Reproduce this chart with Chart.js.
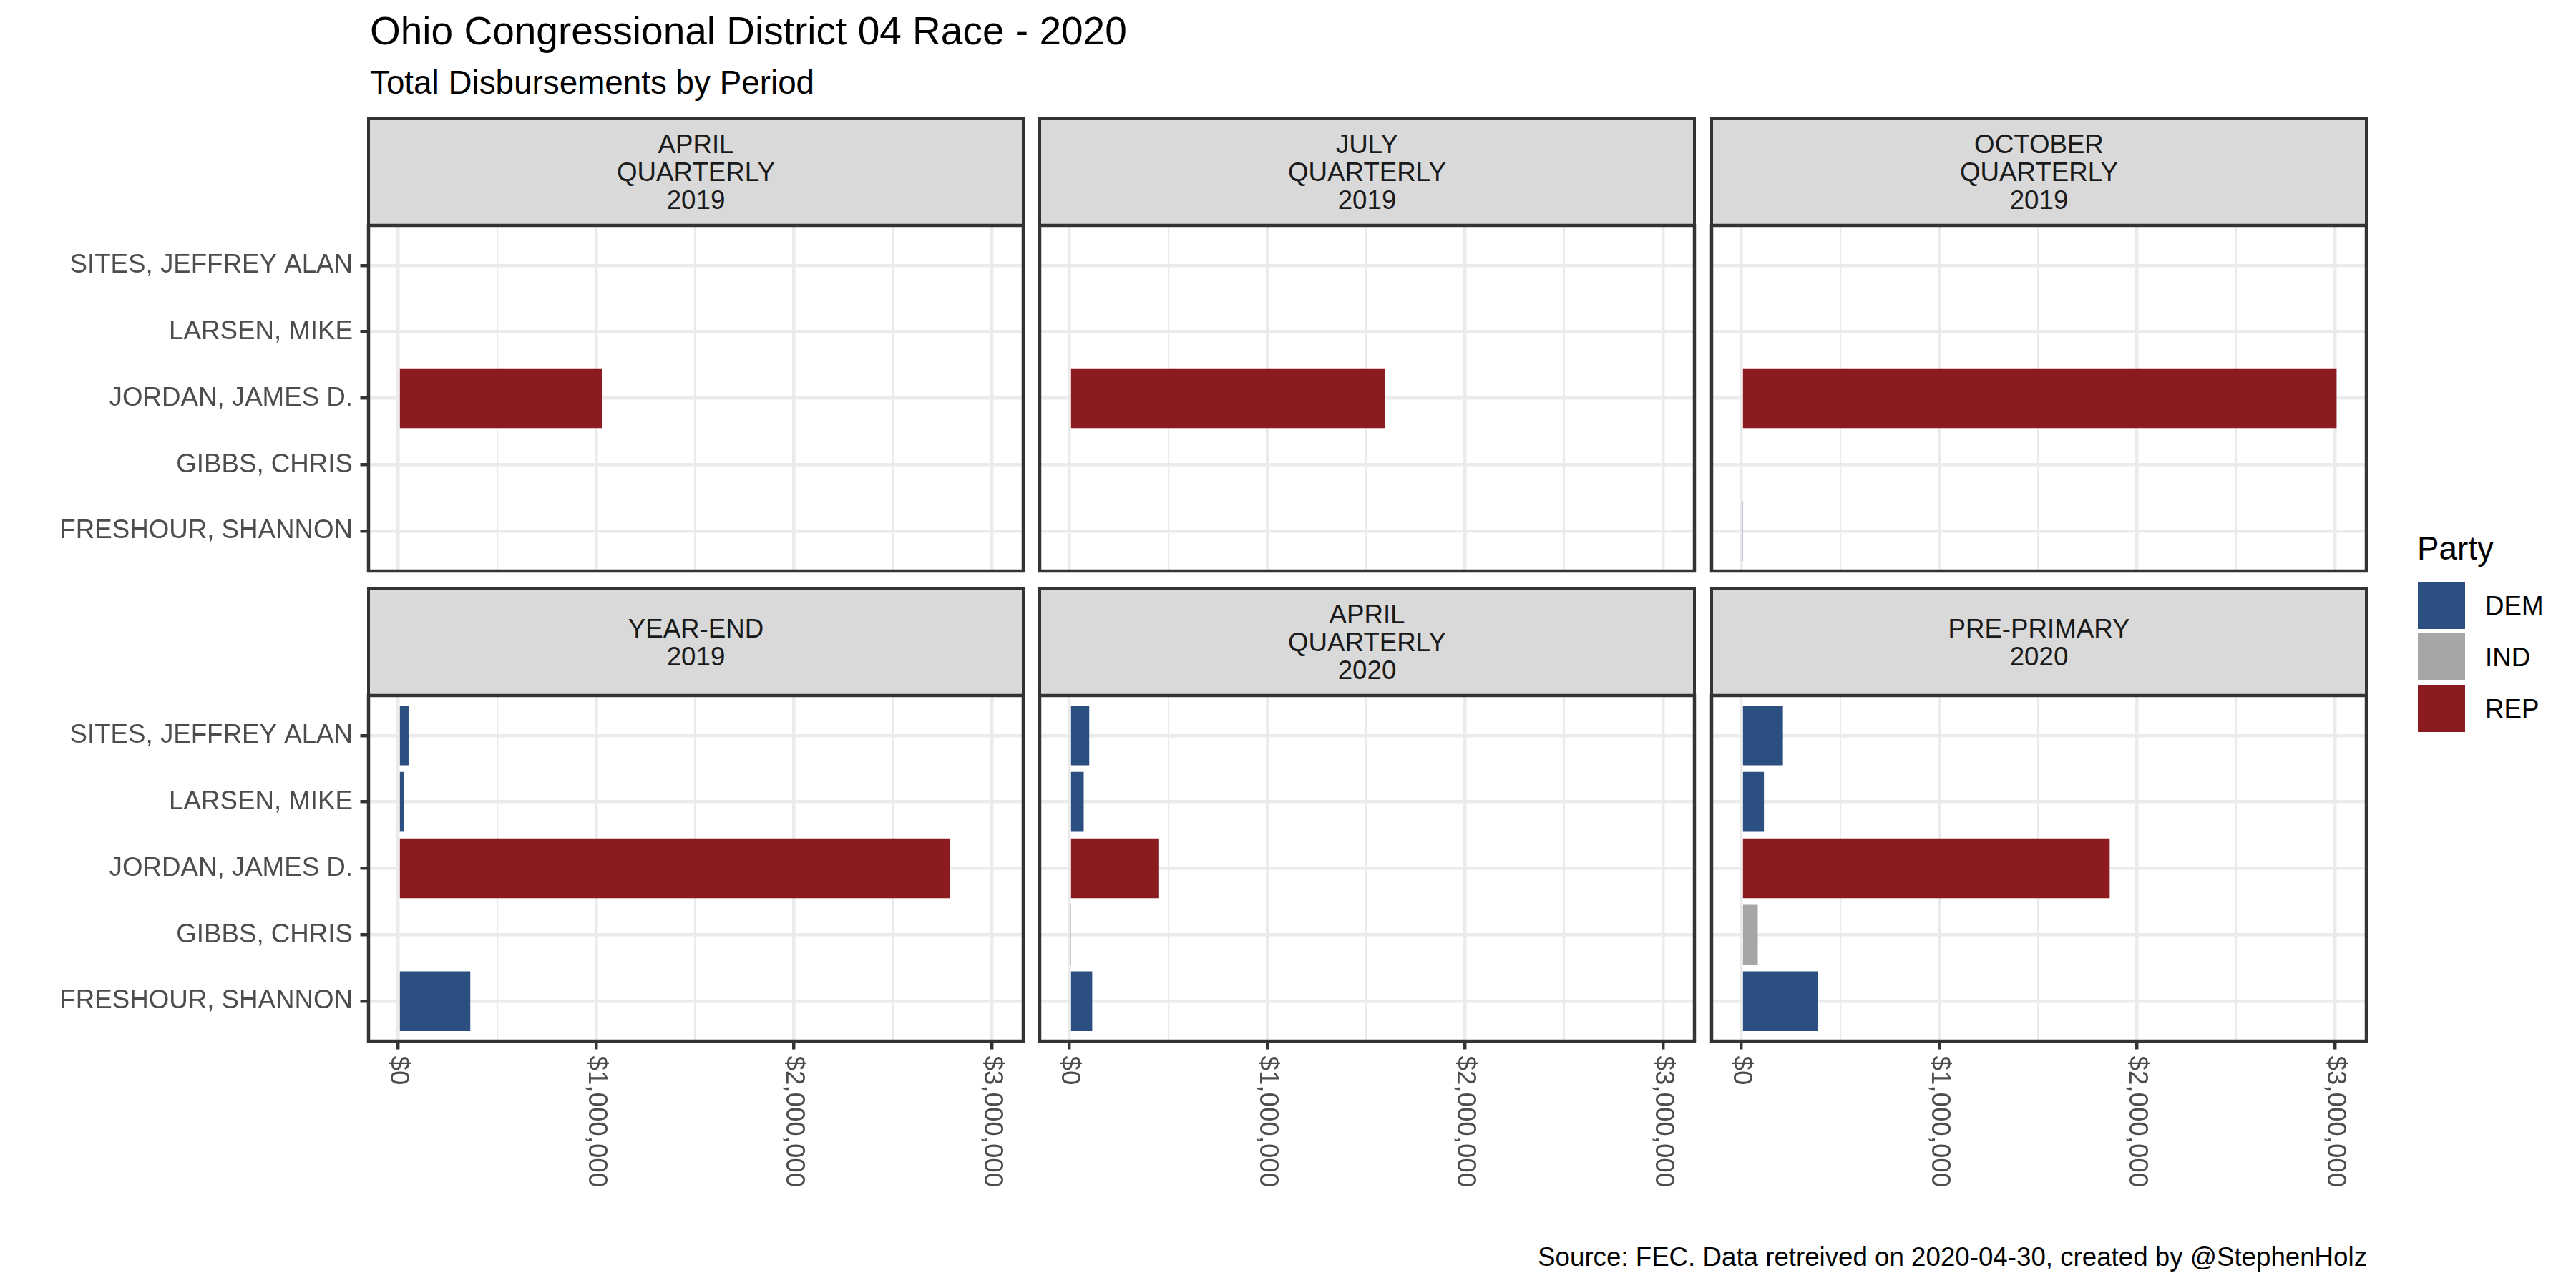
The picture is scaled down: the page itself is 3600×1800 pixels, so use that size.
<!DOCTYPE html>
<html>
<head>
<meta charset="utf-8">
<title>Ohio Congressional District 04 Race - 2020</title>
<script src="https://cdn.jsdelivr.net/npm/chart.js@4.4.1/dist/chart.umd.min.js"></script>
<style>
  body { margin: 0; background: #fff; }
  #page { position: relative; width: 3600px; height: 1800px; overflow: hidden; background: #fff;
          font-family: "Liberation Sans", Arial, sans-serif; }
  .txt { position: absolute; white-space: nowrap; line-height: 1; }
  .strip { position: absolute; box-sizing: border-box; background: #D9D9D9; border: 4.45px solid #333333;
           display: flex; align-items: center; justify-content: center; text-align: center;
           font-size: 36.7px; line-height: 39px; color: #1A1A1A; }
  .panel { position: absolute; }
  .key { position: absolute; width: 66px; height: 66px; }
</style>
</head>
<body>
<div id="page"></div>
<script>
// candidates, bottom to top as ggplot puts them
const candidates = ['FRESHOUR, SHANNON', 'GIBBS, CHRIS', 'JORDAN, JAMES D.', 'LARSEN, MIKE', 'SITES, JEFFREY ALAN'];
const candidateParty = ['DEM', 'IND', 'REP', 'DEM', 'DEM'];

const periods = [
  ['APRIL', 'QUARTERLY', '2019'],
  ['JULY', 'QUARTERLY', '2019'],
  ['OCTOBER', 'QUARTERLY', '2019'],
  ['YEAR-END', '2019'],
  ['APRIL', 'QUARTERLY', '2020'],
  ['PRE-PRIMARY', '2020']
];

// total disbursements per period, same order as candidates (null = no filing)
const aprilQ2019    = [null,   null,  1030000, null,   null];
const julyQ2019     = [null,   null,  1594000, null,   null];
const octoberQ2019  = [7000,   null,  3009000, null,   null];
const yearEnd2019   = [364000, null,  2787000, 28000,  52000];
const aprilQ2020    = [115000, 6000,  453000,  72000,  100000];
const prePrimary2020 = [387000, 83000, 1862000, 114000, 210000];
const periodValues = [aprilQ2019, julyQ2019, octoberQ2019, yearEnd2019, aprilQ2020, prePrimary2020];

const parties = ['DEM', 'IND', 'REP'];
const partyColors = ['#2C4F82', '#A6A6A6', '#8B1B1E'];

const xMajorTicks = [0, 1000000, 2000000, 3000000];
const xMinorTicks = [500000, 1500000, 2500000];

// layout
const FONT = '"Liberation Sans", Arial, sans-serif';
const colLeft = [515, 1453, 2392];
const PW = 915;
const rowTop = [315, 972];
const PH = 483;
const stripTop = [164, 821];
const M = 6;

const page = document.getElementById('page');

function placeText(text, x, baseline, size, color, align) {
  const d = document.createElement('div');
  d.className = 'txt';
  d.textContent = text;
  d.style.fontSize = size + 'px';
  d.style.color = color;
  d.style.top = (baseline - 0.8465 * size) + 'px';
  if (align === 'right') d.style.right = (3600 - x) + 'px';
  else d.style.left = x + 'px';
  page.appendChild(d);
}

placeText('Ohio Congressional District 04 Race - 2020', 517, 63, 55, '#000');
placeText('Total Disbursements by Period', 517, 132, 45.8, '#000');
placeText('Source: FEC. Data retreived on 2020-04-30, created by @StephenHolz', 3308, 1770, 36.7, '#000', 'right');

// legend
placeText('Party', 3378, 783, 45.8, '#000');
parties.forEach((p, i) => {
  const k = document.createElement('div');
  k.className = 'key';
  k.style.left = '3379px';
  k.style.top = (813 + i * 72) + 'px';
  k.style.background = partyColors[i];
  page.appendChild(k);
  placeText(p, 3473, 860 + i * 72, 36.7, '#000');
});

const money = v => '$' + v.toLocaleString('en-US');
const allValues = periodValues.flat().filter(v => v !== null);
const maxVal = Math.max(...allValues);

const borderPlugin = {
  id: 'panelBorder',
  afterDraw(chart) {
    const { ctx, chartArea } = chart;
    ctx.save();
    ctx.strokeStyle = '#333333';
    ctx.lineWidth = 4.45;
    ctx.strokeRect(chartArea.left, chartArea.top, chartArea.right - chartArea.left, chartArea.bottom - chartArea.top);
    ctx.restore();
  }
};

const xLabelPlugin = {
  id: 'xLabels',
  afterDraw(chart, args, opts) {
    if (!opts.show) return;
    const { ctx, chartArea } = chart;
    const x = chart.scales.x;
    ctx.save();
    ctx.fillStyle = '#4D4D4D';
    ctx.font = '36.7px ' + FONT;
    ctx.textAlign = 'left';
    ctx.textBaseline = 'middle';
    xMajorTicks.forEach(v => {
      ctx.save();
      ctx.translate(x.getPixelForValue(v), chartArea.bottom + 11.5 + 9);
      ctx.rotate(Math.PI / 2);
      ctx.fillText(money(v), 0, 0);
      ctx.restore();
    });
    ctx.restore();
  }
};

periods.forEach((lines, p) => {
  const c = p % 3, r = Math.floor(p / 3);
  const px = colLeft[c], py = rowTop[r];

  // facet strip
  const s = document.createElement('div');
  s.className = 'strip';
  s.style.left = (px - 2) + 'px';
  s.style.top = stripTop[r] + 'px';
  s.style.width = (PW + 4) + 'px';
  s.style.height = (py - stripTop[r] + 2) + 'px';
  s.innerHTML = lines.join('<br>');
  page.appendChild(s);

  const left = c === 0 ? 0 : px - M;
  const top = py - M;
  const width = px + PW + M - left;
  const height = r === 1 ? 1720 - top : PH + 2 * M;

  const box = document.createElement('div');
  box.className = 'panel';
  box.style.left = left + 'px';
  box.style.top = top + 'px';
  box.style.width = width + 'px';
  box.style.height = height + 'px';
  const cv = document.createElement('canvas');
  box.appendChild(cv);
  page.appendChild(box);

  const vals = periodValues[p];
  new Chart(cv, {
    type: 'bar',
    data: {
      datasets: [{
        data: vals.map((v, i) => ({ x: v, y: i + 1 })),
        backgroundColor: vals.map((v, i) => partyColors[parties.indexOf(candidateParty[i])]),
        borderWidth: 0,
        barPercentage: 0.9,
        categoryPercentage: 1.0
      }]
    },
    options: {
      indexAxis: 'y',
      responsive: true,
      maintainAspectRatio: false,
      devicePixelRatio: 1,
      animation: false,
      layout: { padding: { left: c === 0 ? 0 : M, top: M, right: M, bottom: r === 1 ? 0 : M } },
      plugins: {
        legend: { display: false },
        tooltip: { enabled: false },
        xLabels: { show: r === 1 }
      },
      scales: {
        x: {
          type: 'linear',
          min: -0.05 * maxVal,
          max: 1.05 * maxVal,
          offset: false,
          afterBuildTicks: scale => {
            scale.ticks = xMajorTicks.concat(xMinorTicks).sort((a, b) => a - b).map(v => ({ value: v }));
          },
          afterFit: scale => {
            scale.height = r === 1 ? height - M - PH : 0;
            scale.paddingLeft = 0;
            scale.paddingRight = 0;
          },
          border: { display: false },
          ticks: { display: false },
          grid: {
            offset: false,
            color: '#EBEBEB',
            lineWidth: ctx => (xMajorTicks.includes(ctx.tick.value) ? 4.45 : 2.2),
            drawTicks: r === 1,
            tickLength: 11.5,
            tickWidth: 4.45,
            tickColor: ctx => (xMajorTicks.includes(ctx.tick.value) ? '#333333' : 'rgba(0,0,0,0)')
          }
        },
        y: {
          type: 'linear',
          min: 0.4,
          max: candidates.length + 0.6,
          offset: false,
          afterBuildTicks: scale => {
            scale.ticks = candidates.map((n, i) => ({ value: i + 1 }));
          },
          afterFit: scale => {
            scale.width = c === 0 ? px : 0;
            scale.paddingTop = 0;
            scale.paddingBottom = 0;
          },
          border: { display: false },
          ticks: {
            display: c === 0,
            color: '#4D4D4D',
            font: { family: FONT, size: 36.7 },
            padding: 10.5,
            callback: v => candidates[v - 1]
          },
          grid: {
            offset: false,
            color: '#EBEBEB',
            lineWidth: 4.45,
            drawTicks: c === 0,
            tickLength: 11.5,
            tickWidth: 4.45,
            tickColor: '#333333'
          }
        }
      }
    },
    plugins: [borderPlugin, xLabelPlugin]
  });
});
</script>
</body>
</html>
